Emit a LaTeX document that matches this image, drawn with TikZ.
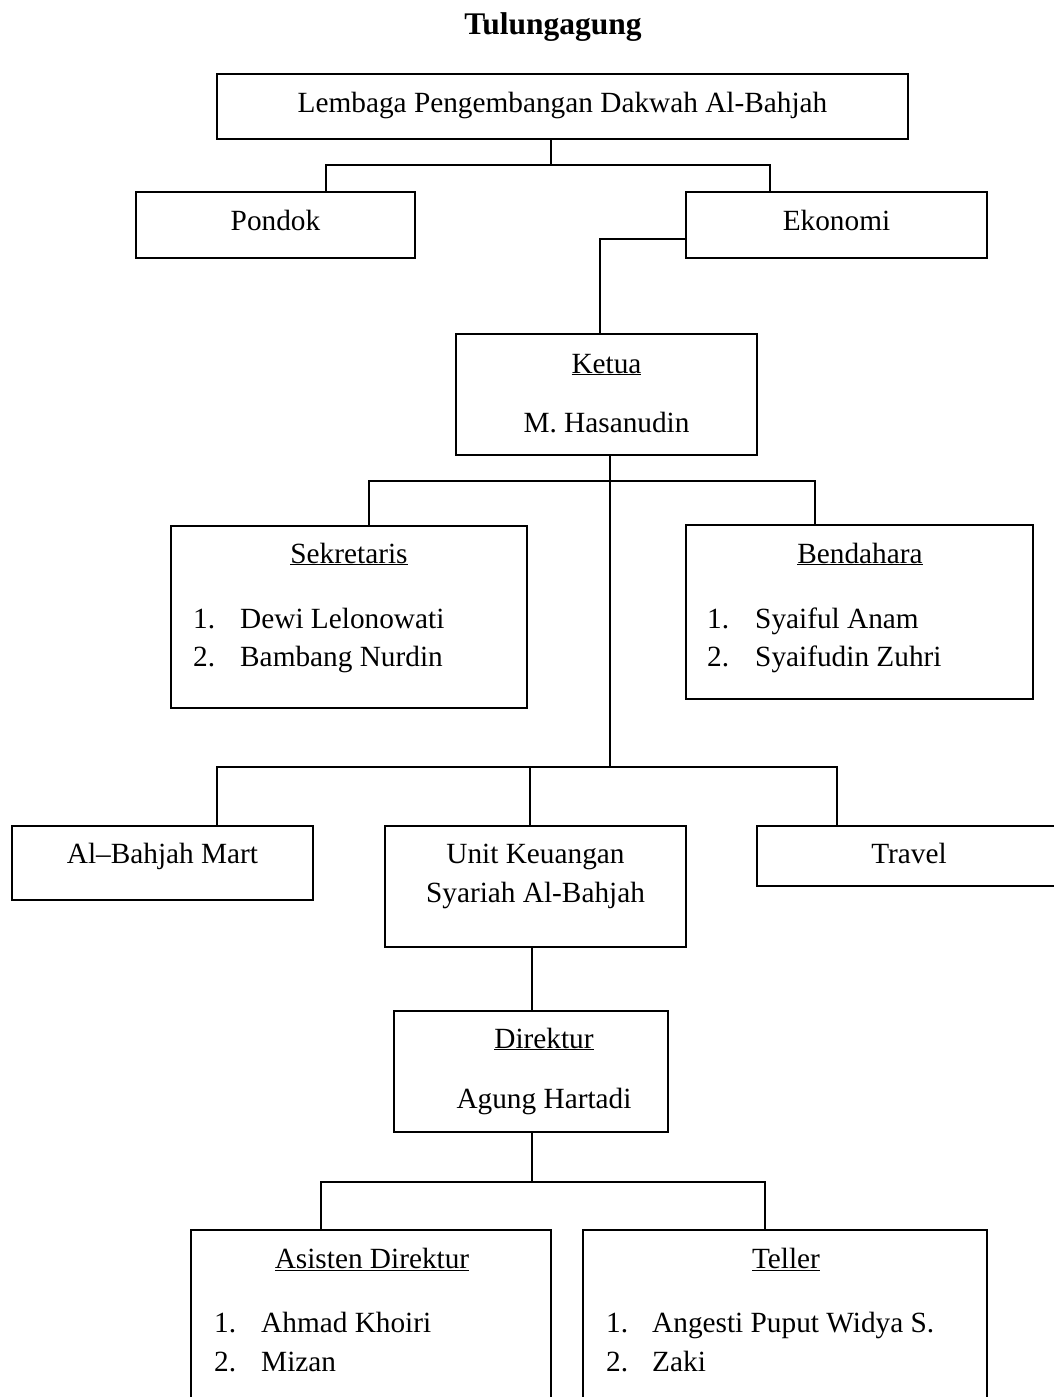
\documentclass[tikz,border=0pt]{standalone}
\usepackage{fontspec}
\setmainfont{Liberation Serif}
\newcommand\bodyfont{\fontsize{29.3}{35}\selectfont}
\newcommand\titlefont{\fontsize{31.5}{38}\selectfont\bfseries}
\begin{document}
\begin{tikzpicture}[x=1pt,y=-1pt,
  box/.style={draw, line width=1.5pt, rectangle, inner sep=0pt, outer sep=0pt, anchor=north west},
  txt/.style={inner sep=0pt, anchor=base, font=\bodyfont},
  lst/.style={inner sep=0pt, anchor=base west, font=\bodyfont},
  conn/.style={line width=1.4pt}]
\clip (0,0) rectangle (1054,1397);
\useasboundingbox (0,0) rectangle (1054,1397);

% title
\node[txt, font=\titlefont] (title) at (553,35) {Tulungagung};

% boxes
\node[box, minimum width=691pt, minimum height=65pt] (top) at (217,74) {};
\node[box, minimum width=279pt, minimum height=66pt] (pondok) at (136,192) {};
\node[box, minimum width=301pt, minimum height=66pt] (ekonomi) at (686,192) {};
\node[box, minimum width=301pt, minimum height=121pt] (ketua) at (456,334) {};
\node[box, minimum width=356pt, minimum height=182pt] (sek) at (171,526) {};
\node[box, minimum width=347pt, minimum height=174pt] (ben) at (686,525) {};
\node[box, minimum width=301pt, minimum height=74pt] (mart) at (12,826) {};
\node[box, minimum width=301pt, minimum height=121pt] (uks) at (385,826) {};
\node[box, minimum width=310pt, minimum height=60pt] (travel) at (757,826) {};
\node[box, minimum width=274pt, minimum height=121pt] (dir) at (394,1011) {};
\node[box, minimum width=360pt, minimum height=200pt] (asis) at (191,1230) {};
\node[box, minimum width=404pt, minimum height=200pt] (tel) at (583,1230) {};

% texts
\node[txt] (topT) at (562.5,112) {Lembaga Pengembangan Dakwah Al-Bahjah};
\node[txt] (pondokT) at (275.5,230) {Pondok};
\node[txt] (ekonomiT) at (836.5,230) {Ekonomi};
\node[txt] (ketuaT) at (606.5,373) {\underline{Ketua}};
\node[txt] (ketuaN) at (606.5,432) {M. Hasanudin};
\node[txt] (sekT) at (349,563) {\underline{Sekretaris}};
\node[lst] (sek1) at (193,628) {1.};
\node[lst] (sek1n) at (240,628) {Dewi Lelonowati};
\node[lst] (sek2) at (193,666) {2.};
\node[lst] (sek2n) at (240,666) {Bambang Nurdin};
\node[txt] (benT) at (860,563) {\underline{Bendahara}};
\node[lst] (ben1) at (707,628) {1.};
\node[lst] (ben1n) at (755,628) {Syaiful Anam};
\node[lst] (ben2) at (707,666) {2.};
\node[lst] (ben2n) at (755,666) {Syaifudin Zuhri};
\node[txt] (martT) at (162.5,863) {Al–Bahjah Mart};
\node[txt] (uksT1) at (535.5,863) {Unit Keuangan};
\node[txt] (uksT2) at (535.5,902) {Syariah Al-Bahjah};
\node[txt] (travelT) at (909,863) {Travel};
\node[txt] (dirT) at (544,1048) {\underline{Direktur}};
\node[txt] (dirN) at (544,1108) {Agung Hartadi};
\node[txt] (asisT) at (372,1268) {\underline{Asisten Direktur}};
\node[lst] (as1) at (214,1332) {1.};
\node[lst] (as1n) at (261,1332) {Ahmad Khoiri};
\node[lst] (as2) at (214,1371) {2.};
\node[lst] (as2n) at (261,1371) {Mizan};
\node[txt] (telT) at (786,1268) {\underline{Teller}};
\node[lst] (tel1) at (606,1332) {1.};
\node[lst] (tel1n) at (652,1332) {Angesti Puput Widya S.};
\node[lst] (tel2) at (606,1371) {2.};
\node[lst] (tel2n) at (652,1371) {Zaki};

% junction coordinates
\coordinate (jTop) at (551,165);
\coordinate (jPondok) at (326,165);
\coordinate (jEko) at (770,165);
\coordinate (jK) at (600,239);
\coordinate (jK2) at (610,481);
\coordinate (jSek) at (369,481);
\coordinate (jBen) at (815,481);
\coordinate (jL) at (610,767);
\coordinate (jMart) at (217,767);
\coordinate (jUks) at (530,767);
\coordinate (jTrav) at (837,767);
\coordinate (jD) at (532,1182);
\coordinate (jAs) at (321,1182);
\coordinate (jTel) at (765,1182);

% connectors
\draw[conn] (jTop |- top.south) -- (jTop);
\draw[conn] (jPondok |- pondok.north) -- (jPondok) -- (jEko) -- (jEko |- ekonomi.north);
\draw[conn] (ekonomi.west |- jK) -- (jK) -- (jK |- ketua.north);
\draw[conn] (jK2 |- ketua.south) -- (jL);
\draw[conn] (jSek |- sek.north) -- (jSek) -- (jBen) -- (jBen |- ben.north);
\draw[conn] (jMart |- mart.north) -- (jMart) -- (jTrav) -- (jTrav |- travel.north);
\draw[conn] (jUks) -- (jUks |- uks.north);
\draw[conn] (jD |- uks.south) -- (jD |- dir.north);
\draw[conn] (jD |- dir.south) -- (jD);
\draw[conn] (jAs |- asis.north) -- (jAs) -- (jTel) -- (jTel |- tel.north);
\end{tikzpicture}
\end{document}
